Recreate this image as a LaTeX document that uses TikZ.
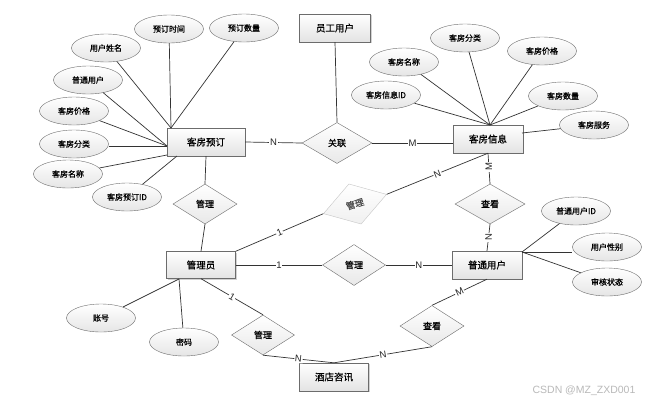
\documentclass[tikz,border=0pt]{standalone}
\usepackage{fontspec}
\newfontfamily\cjk[FakeBold=0.8]{Noto Sans CJK SC}
\newfontfamily\lat{Liberation Sans}
\usetikzlibrary{shapes.geometric,shadows,calc}
\begin{document}
\begin{tikzpicture}[x=1pt,y=-1pt,
  entity/.style={draw=gray!85!black, rectangle, minimum width=70pt, minimum height=28pt, inner sep=0pt,
    top color=white, bottom color=gray!22,
    drop shadow={shadow xshift=1.2pt, shadow yshift=-1.2pt, opacity=0.35},
    font=\cjk\fontsize{9.5}{10}\selectfont},
  rel/.style={draw=gray!85!black, diamond, minimum width=64pt, minimum height=40pt, inner sep=0pt,
    top color=white, bottom color=gray!18, font=\cjk\fontsize{9}{10}\selectfont},
  attr/.style={draw=gray!85!black, ellipse, minimum width=69pt, minimum height=28pt, inner sep=0pt,
    top color=white, bottom color=gray!20, font=\cjk\fontsize{8}{9}\selectfont},
  link/.style={draw=black!80, line width=0.7pt},
  card/.style={fill=white, inner sep=0.8pt, font=\lat\fontsize{9.5}{10}\selectfont, text=black!85}
]
\useasboundingbox (0,0) rectangle (652,405);
\fill[white] (0,0) rectangle (652,405);

% attachment points on the entities
\coordinate (kfydNW) at (171,128);
\coordinate (kfydW) at (167,146);
\coordinate (kfydSW) at (167,155);
\coordinate (kfydS) at (177,156);
\coordinate (kfxxN) at (490,125);
\coordinate (kfxxE) at (522,133);
\coordinate (ptyhNE) at (522,252);
\coordinate (glySW) at (179,279);

% entities
\node[entity, minimum width=78pt] (kfyd) at (206,142) {客房预订};
\node[entity, minimum width=71pt] (ygyh) at (335,28) {员工用户};
\node[entity] (kfxx) at (488,139) {客房信息};
\node[entity, minimum width=69pt, minimum height=27pt] (gly) at (201,265) {管理员};
\node[entity] (ptyh) at (487,265) {普通用户};
\node[entity, minimum width=69pt] (jdzx) at (334,377) {酒店咨讯};

% relationships
\node[rel, minimum width=70pt, minimum height=41pt] (gl) at (337,143) {关联};
\node[rel] (gm1) at (205,204) {管理};
\node[rel, draw=gray!45, top color=white, bottom color=gray!12, minimum width=66pt, minimum height=42pt, rotate=17, text=black!70] (gm2) at (355,204) {管理};
\node[rel, minimum width=70pt] (ck1) at (490,204) {查看};
\node[rel, minimum width=63pt, minimum height=41pt] (gm3) at (354,265) {管理};
\node[rel, minimum width=63pt] (gm4) at (263,335) {管理};
\node[rel, minimum height=41pt] (ck2) at (432,326) {查看};

% attributes
\node[attr] (a1) at (169,29) {预订时间};
\node[attr] (a2) at (244,28) {预订数量};
\node[attr] (a3) at (106,48) {用户姓名};
\node[attr] (a4) at (88,80) {普通用户};
\node[attr] (a5) at (74,111) {客房价格};
\node[attr] (a6) at (74,144) {客房分类};
\node[attr] (a7) at (68,174) {客房名称};
\node[attr] (a8) at (127,197) {客房预订ID};
\node[attr] (b1) at (465,38) {客房分类};
\node[attr] (b2) at (404,62) {客房名称};
\node[attr] (b3) at (542,51) {客房价格};
\node[attr] (b4) at (386,95) {客房信息ID};
\node[attr] (b5) at (563,96) {客房数量};
\node[attr] (b6) at (594,125) {客房服务};
\node[attr] (c1) at (576,211) {普通用户ID};
\node[attr] (c2) at (607,247) {用户性别};
\node[attr] (c3) at (607,282) {审核状态};
\node[attr] (d1) at (101,318) {账号};
\node[attr] (d2) at (184,342) {密码};

% attribute links
\draw[link] (a1) -- (kfydNW);
\draw[link] (a2) -- (kfydNW);
\draw[link] (a3) -- (kfydNW);
\draw[link] (a4) -- (kfydW);
\draw[link] (a5) -- (kfydW);
\draw[link] (a6.east |- kfydW) -- (kfydW);
\draw[link] (a7) -- (kfydSW);
\draw[link] (a8) -- (kfydS);
\draw[link] (b1) -- (kfxxN);
\draw[link] (b2) -- (kfxxN);
\draw[link] (b3) -- (kfxxN);
\draw[link] (b4) -- (kfxxN);
\draw[link] (b5) -- (kfxxN);
\draw[link] (b6) -- (kfxxE);
\draw[link] (c1) -- (ptyhNE);
\draw[link] (ptyhNE) -- (ptyhNE -| c2.west);
\draw[link] (c3) -- (ptyhNE);
\draw[link] (d1) -- (glySW);
\draw[link] (d2) -- (glySW);

% relationship links
\draw[link] (kfyd.east) -- node[card]{N} (gl.west);
\draw[link] (gl.east) -- node[card]{M} (gl.east -| kfxx.west);
\draw[link] (ygyh.south) -- (gl.north);
\draw[link] (kfyd.south) -- (gm1.north);
\draw[link] (gm1.south) -- (gly.north);
\draw[link] (gly.north east) -- node[card, sloped]{1} (gm2.west);
\draw[link] (gm2.east) -- node[card, sloped]{N} (kfxx.south);
\draw[link] (kfxx.south) -- node[card, rotate=90, pos=0.45]{M} (ck1.north);
\draw[link] (ck1.south) -- node[card, rotate=90]{N} (ptyh.north);
\draw[link] (gly.east) -- node[card]{1} (gm3.west);
\draw[link] (gm3.east) -- node[card]{N} (ptyh.west);
\draw[link] (gly.south) -- node[card, sloped]{1} (gm4.north);
\draw[link] (gm4.south) -- node[card, sloped]{N} (jdzx.north);
\draw[link] (ptyh.south) -- node[card, sloped]{M} (ck2.north);
\draw[link] (ck2.south) -- node[card, sloped]{N} (jdzx.north);

% watermark
\node[font=\lat\fontsize{10.5}{11}\selectfont, text=gray!55] (wm) at (584,391) {CSDN @MZ\_ZXD001};
\end{tikzpicture}
\end{document}
